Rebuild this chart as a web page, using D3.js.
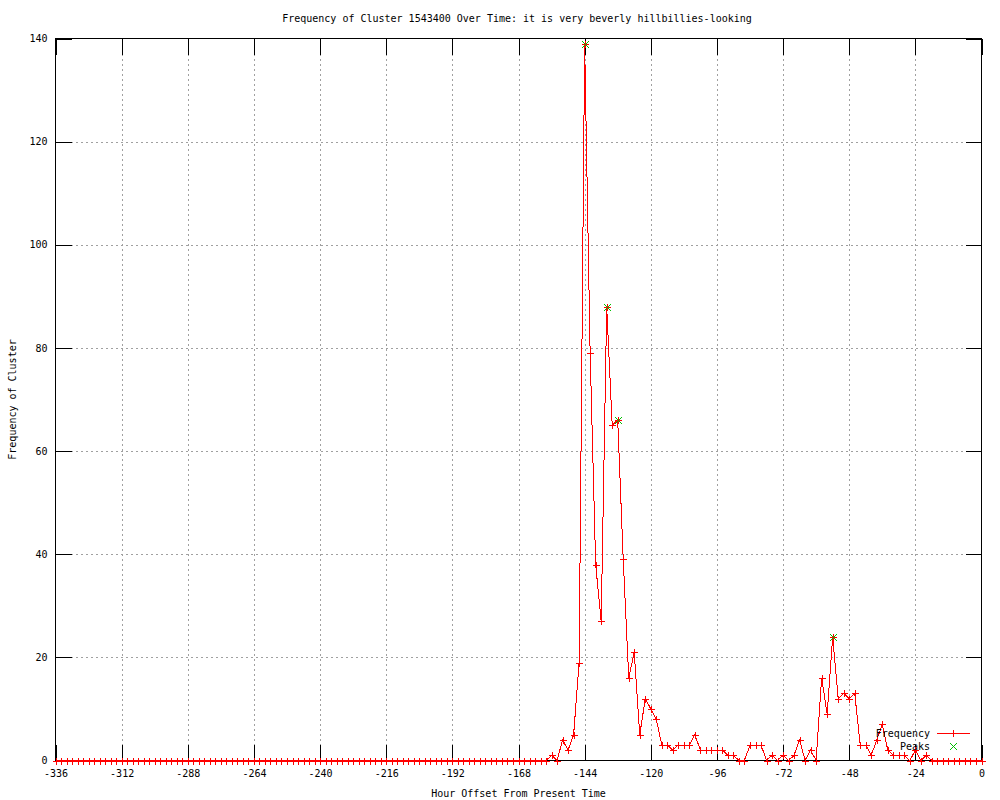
<!DOCTYPE html>
<html>
<head>
<meta charset="utf-8">
<script src="https://cdn.jsdelivr.net/npm/d3@7"></script>
<style>
  html, body { margin: 0; padding: 0; background: #fff; }
  svg { display: block; }
  text { font-family: "DejaVu Sans Mono", "Liberation Mono", monospace; font-size: 10px; fill: #000; }
</style>
</head>
<body>
<script>
// ---- data ----
const titleText = "Frequency of Cluster 1543400 Over Time: it is very beverly hillbillies-looking";
const xLabel = "Hour Offset From Present Time";
const yLabel = "Frequency of Cluster";
const hours = d3.range(-336, 1, 2);            // one sample every 2 hours
const frequency = [
  0,0,0,0,0,0,0,0,0,0, 0,0,0,0,0,0,0,0,0,0,
  0,0,0,0,0,0,0,0,0,0, 0,0,0,0,0,0,0,0,0,0,
  0,0,0,0,0,0,0,0,0,0, 0,0,0,0,0,0,0,0,0,0,
  0,0,0,0,0,0,0,0,0,0, 0,0,0,0,0,0,0,0,0,0,
  0,0,0,0,0,0,0,0,0,0,
  1,0,4,2,5,19,139,79,38,27,
  88,65,66,39,16,21,5,12,10,8,
  3,3,2,3,3,3,5,2,2,2,
  2,2,1,1,0,0,3,3,3,0,
  1,0,1,0,1,4,0,2,0,16,
  9,24,12,13,12,13,3,3,1,4,
  7,2,1,1,1,0,2,0,1,0,
  0,0,0,0,0,0,0,0,0
];
const peakHours = [-144, -136, -132, -54];
const peakValues = [139, 88, 66, 24];
const xTicks = d3.range(-336, 1, 24);
const yTicks = d3.range(0, 141, 20);
const legendNames = ["Frequency", "Peaks"];

// ---- layout ----
const W = 1000, H = 800;
const L = 55.5, R = 981.5, T = 38.5, B = 760.5;
const red = "#ff0000", green = "#00c000";
const FONT = "10px";

const svg = d3.select("body").append("svg").attr("width", W).attr("height", H);

const x = d3.scaleLinear().domain([-336, 0]).range([L, R]);
const y = d3.scaleLinear().domain([0, 140]).range([B, T]);

// grid
const grid = svg.append("g").attr("shape-rendering", "crispEdges");
grid.selectAll("line.gx").data(xTicks.filter(d => d > -336 && d < 0)).enter().append("line")
  .attr("x1", d => Math.round(x(d)) + 0.5).attr("x2", d => Math.round(x(d)) + 0.5)
  .attr("y1", T).attr("y2", B)
  .attr("stroke", "#a0a0a0").attr("stroke-dasharray", "2,3");
grid.selectAll("line.gy").data(yTicks.filter(d => d > 0 && d < 140)).enter().append("line")
  .attr("y1", d => Math.round(y(d)) + 0.5).attr("y2", d => Math.round(y(d)) + 0.5)
  .attr("x1", L).attr("x2", R)
  .attr("stroke", "#a0a0a0").attr("stroke-dasharray", "2,3");

// axes (ticks inward, mirrored)
const tickLen = 16;
function styleAxis(g) {
  g.attr("shape-rendering", "crispEdges");
  g.select(".domain").remove();
  g.selectAll(".tick line").attr("stroke", "#000");
  g.selectAll(".tick text").style("font-family", "'DejaVu Sans Mono', monospace").style("font-size", FONT).attr("fill", "#000");
}
svg.append("g").attr("transform", `translate(0,${B})`)
  .call(d3.axisBottom(x).tickValues(xTicks).tickSizeInner(-tickLen).tickSizeOuter(0).tickPadding(9).tickFormat(d => String(d)))
  .call(styleAxis);
svg.append("g").attr("transform", `translate(0,${T})`)
  .call(d3.axisTop(x).tickValues(xTicks).tickSizeInner(-tickLen).tickSizeOuter(0).tickFormat(""))
  .call(styleAxis);
svg.append("g").attr("transform", `translate(${L},0)`)
  .call(d3.axisLeft(y).tickValues(yTicks).tickSizeInner(-tickLen).tickSizeOuter(0).tickPadding(8).tickFormat(d => String(d)))
  .call(styleAxis);
svg.append("g").attr("transform", `translate(${R},0)`)
  .call(d3.axisRight(y).tickValues(yTicks).tickSizeInner(-tickLen).tickSizeOuter(0).tickFormat(""))
  .call(styleAxis);

// border
svg.append("rect").attr("x", L).attr("y", T).attr("width", R - L).attr("height", B - T)
  .attr("fill", "none").attr("stroke", "#000").attr("shape-rendering", "crispEdges");

// frequency line
const pts = hours.map((h, i) => [h, frequency[i]]);
const line = d3.line().x(d => x(d[0])).y(d => y(d[1]));
svg.append("path").datum(pts).attr("d", line)
  .attr("fill", "none").attr("stroke", red).attr("stroke-width", 1).attr("shape-rendering", "crispEdges");

// plus markers
const ps = 3.5;
function plus(g, cx, cy, color) {
  g.append("path").attr("d", `M${cx - ps},${cy}H${cx + ps}M${cx},${cy - ps}V${cy + ps}`)
    .attr("stroke", color).attr("fill", "none").attr("shape-rendering", "crispEdges");
}
function cross(g, cx, cy, color) {
  g.append("path").attr("d", `M${cx - ps},${cy - ps}L${cx + ps},${cy + ps}M${cx - ps},${cy + ps}L${cx + ps},${cy - ps}`)
    .attr("stroke", color).attr("fill", "none").attr("shape-rendering", "crispEdges");
}
const mk = svg.append("g");
pts.forEach(d => plus(mk, Math.round(x(d[0])) + 0.5, Math.round(y(d[1])) + 0.5, red));

// peaks
const pk = svg.append("g");
peakHours.forEach((h, i) => cross(pk, Math.round(x(h)) + 0.5, Math.round(y(peakValues[i])) + 0.5, green));

// legend
const lg = svg.append("g");
lg.append("text").attr("x", 930).attr("y", 737).attr("text-anchor", "end").text(legendNames[0]);
lg.append("line").attr("x1", 937).attr("x2", 970).attr("y1", 733.5).attr("y2", 733.5)
  .attr("stroke", red).attr("shape-rendering", "crispEdges");
plus(lg, 953.5, 733.5, red);
lg.append("text").attr("x", 930).attr("y", 750).attr("text-anchor", "end").text(legendNames[1]);
cross(lg, 953.5, 746.5, green);

// titles
svg.append("text").attr("x", 517).attr("y", 22).attr("text-anchor", "middle").text(titleText);
svg.append("text").attr("x", 518.5).attr("y", 797).attr("text-anchor", "middle").text(xLabel);
svg.append("text").attr("transform", `translate(16,${(T + B) / 2}) rotate(-90)`).attr("text-anchor", "middle").text(yLabel);
</script>
</body>
</html>
